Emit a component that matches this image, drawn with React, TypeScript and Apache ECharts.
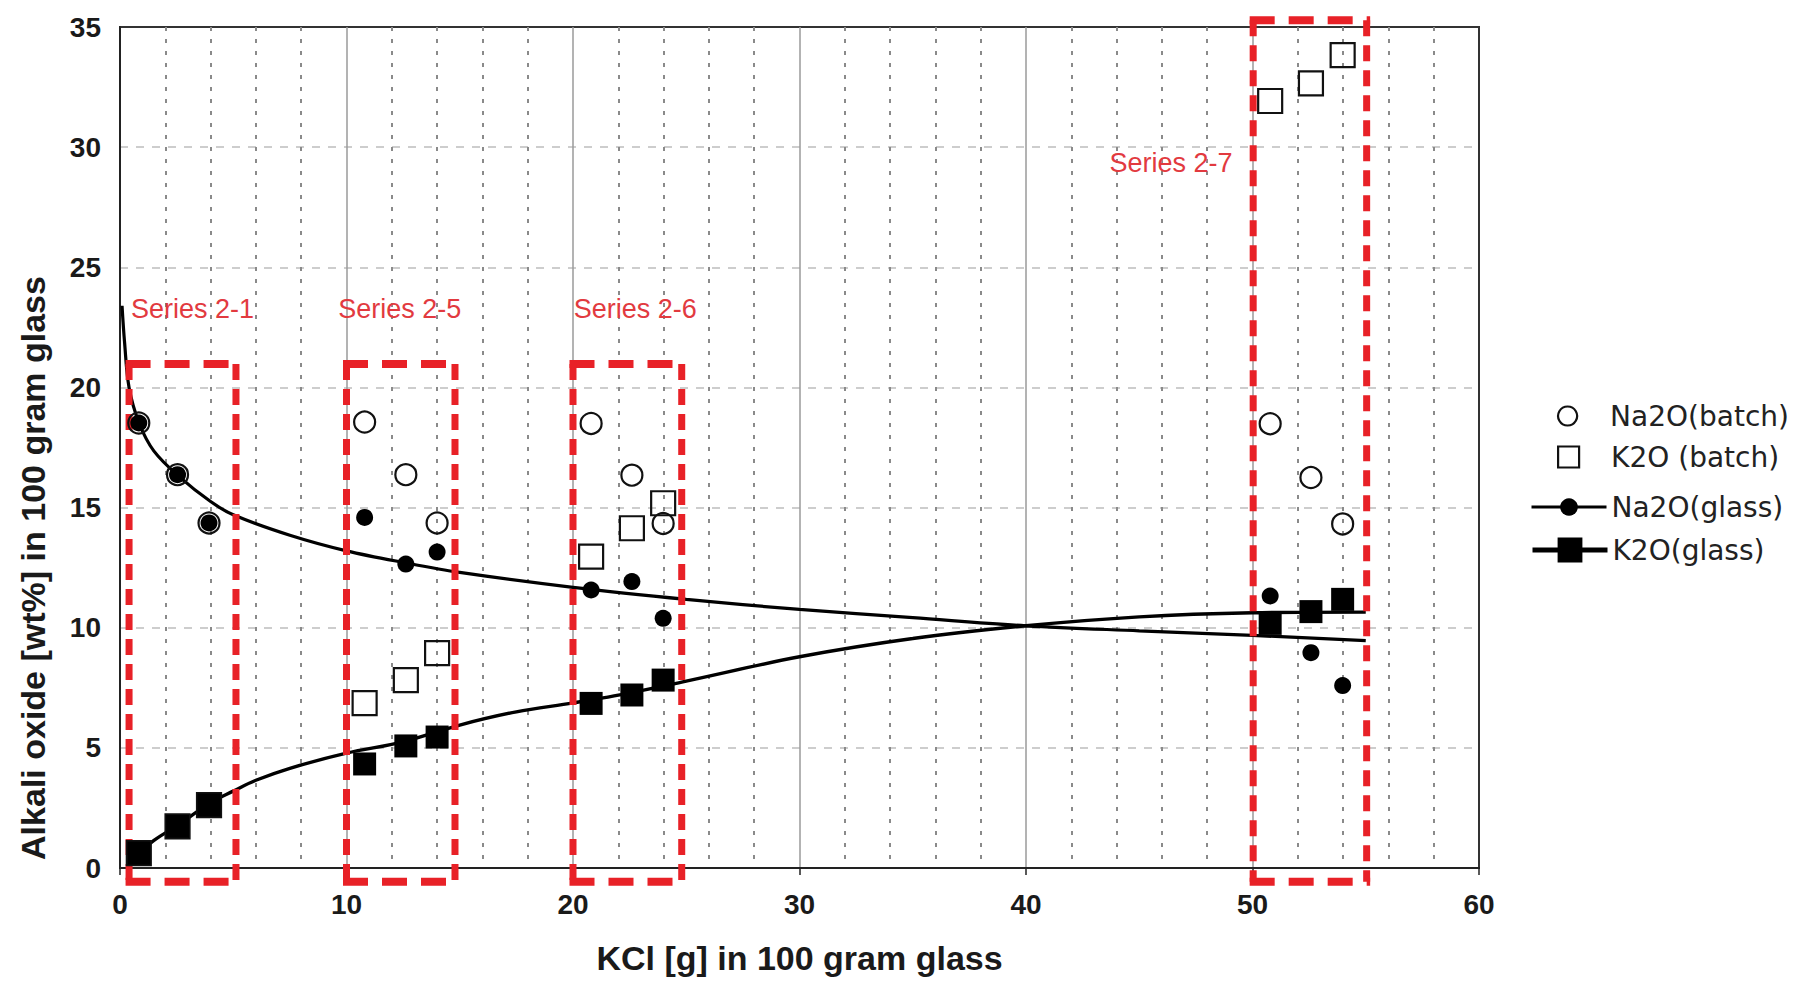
import React, { useEffect, useRef } from "react";
import * as echarts from "echarts";

// ---- data ----
const kcl = [0.83, 2.54, 3.93, 10.8, 12.62, 14.0, 20.8, 22.6, 23.98, 50.78, 52.58, 53.98];
const na2oBatch = [18.52, 16.37, 14.36, 18.56, 16.37, 14.36, 18.5, 16.35, 14.34, 18.49, 16.25, 14.32];
const k2oBatch = [0.62, 1.73, 2.62, 6.86, 7.82, 8.94, 12.96, 14.14, 15.18, 31.92, 32.65, 33.83];
const na2oGlass = [18.52, 16.37, 14.36, 14.59, 12.65, 13.15, 11.57, 11.92, 10.39, 11.32, 8.96, 7.59];
const k2oGlass = [0.62, 1.73, 2.62, 4.33, 5.08, 5.45, 6.85, 7.2, 7.82, 10.18, 10.67, 11.18];

// fitted trend curves
const na2oFitX = [0.09, 0.2, 0.4, 0.85, 1.5, 2.6, 4, 5, 7.5, 10, 12.6, 15, 20, 25, 30, 35, 40, 45, 50, 55];
const na2oFitY = [23.4, 21.9, 20.0, 18.5, 17.35, 16.3, 15.25, 14.7, 13.85, 13.2, 12.7, 12.3, 11.68, 11.18, 10.76, 10.42, 10.08, 9.87, 9.68, 9.46];
const k2oFitX = [0.7, 1.5, 2.5, 4, 5, 6, 7.5, 10, 12.5, 15, 17.5, 20, 22.5, 25, 30, 35, 40, 45, 50, 55];
const k2oFitY = [0.5, 1.15, 1.75, 2.72, 3.2, 3.65, 4.15, 4.78, 5.25, 5.95, 6.5, 6.87, 7.28, 7.78, 8.79, 9.55, 10.08, 10.45, 10.62, 10.65];

// red dashed boxes around the experimental series
const boxX1 = [0.4, 10.0, 20.0, 50.03];
const boxX2 = [5.12, 14.79, 24.8, 55.04];
const boxY1 = [-0.57, -0.57, -0.57, -0.57];
const boxY2 = [20.98, 20.98, 20.98, 35.28];

const seriesLabels = ["Series 2-1", "Series 2-5", "Series 2-6", "Series 2-7"];
const seriesLabelX = [3.2, 12.35, 22.75, 46.4];
const seriesLabelY = [23.25, 23.25, 23.25, 29.35];

const xTitle = "KCl [g] in 100 gram glass";
const yTitle = "Alkali oxide [wt%] in 100 gram glass";
const legendNames = ["Na2O(batch)", "K2O (batch)", "Na2O(glass)", "K2O(glass)"];

const RED = "#e82127";
const FONT = "Liberation Sans, Arial, sans-serif";
const LEGEND_FONT = "DejaVu Sans, Verdana, sans-serif";
const CIRCLE_ICON = "path://M10,0A10,10,0,1,1,9.999,0Z";
const SQUARE_ICON = "path://M0,0H10V10H0Z";

const zip = (a: number[], b: number[]) => a.map((v, i) => [v, b[i]]);

export default function App() {
  const ref = useRef<HTMLDivElement>(null);

  useEffect(() => {
    if (!ref.current) return;
    const chart = echarts.init(ref.current, null, { renderer: "svg" });

    const boxData = boxX1.map((v, i) => [v, boxX2[i], boxY1[i], boxY2[i]]);
    const labelData = seriesLabelX.map((v, i) => [v, seriesLabelY[i]]);

    const legendBase = {
      orient: "horizontal",
      left: 1530,
      padding: 0,
      itemWidth: 75,
      symbolKeepAspect: true,
      textStyle: { fontFamily: LEGEND_FONT, fontSize: 28, color: "#222" },
      selectedMode: false,
    };

    const option: any = {
      animation: false,
      backgroundColor: "#ffffff",
      textStyle: { fontFamily: FONT },
      grid: {
        left: 120,
        top: 27,
        width: 1359,
        height: 841,
        show: true,
        borderColor: "#333",
        borderWidth: 2,
        backgroundColor: "transparent",
      },
      legend: [
        {
          ...legendBase, left: 1557, top: 402, itemHeight: 19,
          data: [{ name: legendNames[0], icon: CIRCLE_ICON }],
          itemStyle: { color: "rgba(255,255,255,0)", borderWidth: 2.2, borderColor: "#111", opacity: 1 },
        },
        {
          ...legendBase, left: 1557, top: 443, itemHeight: 21,
          data: [{ name: legendNames[1], icon: SQUARE_ICON }],
          itemStyle: { color: "rgba(255,255,255,0)", borderWidth: 2.2, borderColor: "#111", opacity: 1 },
        },
        { ...legendBase, top: 493, itemHeight: 22, data: [legendNames[2]], lineStyle: { width: 3, color: "#000" }, itemStyle: { color: "#000", borderWidth: 0, opacity: 1 } },
        { ...legendBase, top: 536, itemHeight: 31, data: [legendNames[3]], lineStyle: { width: 5, color: "#000" }, itemStyle: { color: "#000", borderWidth: 0, opacity: 1 } },
      ],
      xAxis: {
        type: "value",
        min: 0,
        max: 60,
        interval: 10,
        name: xTitle,
        nameLocation: "middle",
        nameGap: 73,
        nameTextStyle: { fontFamily: FONT, fontSize: 34, fontWeight: "bold", color: "#1a1a1a" },
        axisLine: { show: true, onZero: false, lineStyle: { color: "#222", width: 2 } },
        axisTick: { show: true, length: 7, lineStyle: { color: "#222", width: 1.5 } },
        minorTick: { show: true, splitNumber: 5, length: 0 },
        axisLabel: { fontFamily: FONT, fontSize: 28, fontWeight: "bold", color: "#1a1a1a", margin: 22 },
        splitLine: { show: true, showMinLine: false, showMaxLine: false, lineStyle: { color: "#9a9a9a", width: 1.5 } },
        minorSplitLine: { show: true, lineStyle: { color: "#8a8a8a", width: 2, type: [4, 8] } },
      },
      yAxis: {
        type: "value",
        min: 0,
        max: 35,
        interval: 5,
        axisLine: { show: true, onZero: false, lineStyle: { color: "#222", width: 2 } },
        axisTick: { show: false },
        axisLabel: { fontFamily: FONT, fontSize: 28, fontWeight: "bold", color: "#1a1a1a", margin: 19 },
        splitLine: { show: true, showMinLine: false, showMaxLine: false, lineStyle: { color: "#bdbdbd", width: 1.5, type: [8, 8] } },
      },
      graphic: [
        {
          type: "text",
          x: 33,
          y: 568,
          rotation: Math.PI / 2,
          style: {
            text: yTitle,
            align: "center",
            verticalAlign: "middle",
            font: `bold 34px ${FONT}`,
            fill: "#1a1a1a",
          },
        },
      ],
      series: [
        {
          name: legendNames[2],
          type: "line",
          data: zip(na2oFitX, na2oFitY),
          smooth: 0.35,
          symbol: "circle",
          showSymbol: false,
          lineStyle: { color: "#000", width: 3.2 },
          itemStyle: { color: "#000" },
          z: 2,
        },
        {
          name: legendNames[3],
          type: "line",
          data: zip(k2oFitX, k2oFitY),
          smooth: 0.35,
          symbol: "rect",
          showSymbol: false,
          lineStyle: { color: "#000", width: 3.4 },
          itemStyle: { color: "#000" },
          z: 2,
        },
        {
          type: "custom",
          clip: false,
          silent: true,
          z: 3,
          encode: { x: [0, 1], y: [2, 3] },
          data: boxData,
          renderItem: (params: any, api: any) => {
            const tl = api.coord([api.value(0), api.value(3)]);
            const br = api.coord([api.value(1), api.value(2)]);
            const h = { stroke: RED, lineWidth: 8, fill: null, lineDash: [25, 14] };
            const v = { stroke: RED, lineWidth: 7, fill: null, lineDash: [16, 9] };
            return {
              type: "group",
              children: [
                { type: "line", shape: { x1: tl[0] - 3.5, y1: tl[1], x2: br[0] + 3.5, y2: tl[1] }, style: h },
                { type: "line", shape: { x1: tl[0] - 3.5, y1: br[1], x2: br[0] + 3.5, y2: br[1] }, style: h },
                { type: "line", shape: { x1: tl[0], y1: tl[1], x2: tl[0], y2: br[1] }, style: v },
                { type: "line", shape: { x1: br[0], y1: tl[1], x2: br[0], y2: br[1] }, style: v },
              ],
            };
          },
        },
        {
          type: "custom",
          clip: false,
          silent: true,
          z: 5,
          data: labelData,
          renderItem: (params: any, api: any) => {
            const p = api.coord([api.value(0), api.value(1)]);
            return {
              type: "text",
              x: p[0],
              y: p[1],
              style: {
                text: seriesLabels[params.dataIndex],
                align: "center",
                verticalAlign: "middle",
                font: `27px ${FONT}`,
                fill: "#e23a3f",
              },
            };
          },
        },
        {
          name: legendNames[0],
          type: "scatter",
          data: zip(kcl, na2oBatch),
          symbol: "circle",
          symbolSize: 21,
          itemStyle: { color: "rgba(255,255,255,0)", borderColor: "#111", borderWidth: 2.2, opacity: 1 },
          z: 4,
        },
        {
          name: legendNames[1],
          type: "scatter",
          data: zip(kcl, k2oBatch),
          symbol: "rect",
          symbolSize: 24,
          itemStyle: { color: "rgba(255,255,255,0)", borderColor: "#111", borderWidth: 2.2, opacity: 1 },
          z: 4,
        },
        {
          name: legendNames[2],
          type: "scatter",
          data: zip(kcl, na2oGlass),
          symbol: "circle",
          symbolSize: 17,
          itemStyle: { color: "#000", opacity: 1 },
          z: 4,
        },
        {
          name: legendNames[3],
          type: "scatter",
          data: zip(kcl, k2oGlass),
          symbol: "rect",
          symbolSize: 23,
          itemStyle: { color: "#000", opacity: 1 },
          z: 4,
        },
      ],
    };

    chart.setOption(option);
    return () => chart.dispose();
  }, []);

  return (
    <div
      ref={ref}
      style={{ position: "fixed", left: 0, top: 0, width: 1812, height: 981, background: "#fff" }}
    />
  );
}
